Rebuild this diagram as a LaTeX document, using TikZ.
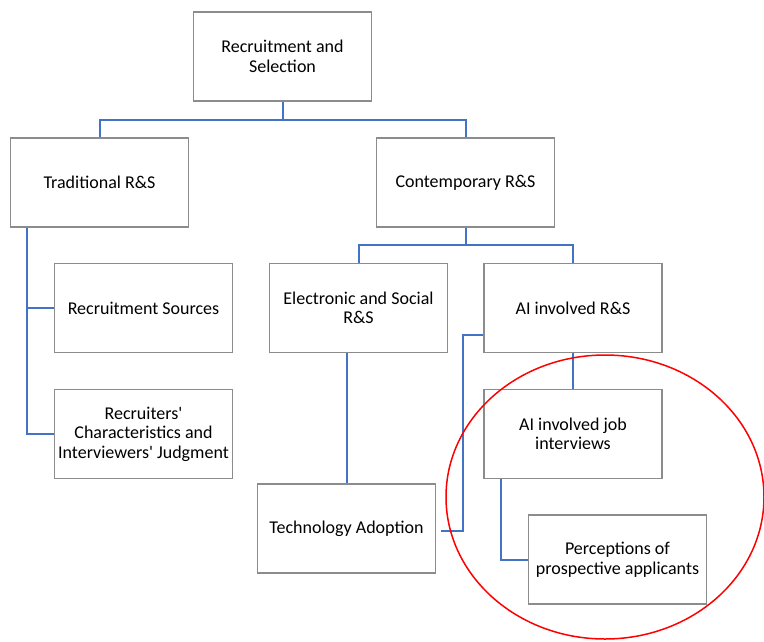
\documentclass[tikz,border=0pt]{standalone}
\usepackage{fontspec}
\setmainfont{Carlito}
\usepackage{tikz}
\usetikzlibrary{positioning, calc}
\definecolor{linkblue}{HTML}{4472C4}
\definecolor{boxgray}{HTML}{8C8C8C}

\begin{document}
\begin{tikzpicture}[on grid,
    box/.style={draw=boxgray, line width=1.3pt, fill=white, minimum width=178pt,
      minimum height=89pt, align=center, inner sep=2pt,
      font=\fontsize{18}{19.5}\selectfont},
    link/.style={draw=linkblue, line width=2pt},
    ring/.style={draw=red, line width=1.5pt}]
  \useasboundingbox (0,0) rectangle (764pt,-641pt);
  \node[box] (root) at (282.5pt,-56.5pt) {Recruitment and\\Selection};
  \node[box] (trad) [below left=126pt and 183pt of root] {Traditional R\&S};
  \node[box] (cont) [below right=126pt and 183pt of root] {Contemporary R\&S};
  \node[box] (rsrc) [below right=125.5pt and 44pt of trad] {Recruitment Sources};
  \node[box] (rjudg) [below=126pt of rsrc] {Recruiters\textquotesingle\\Characteristics and\\Interviewers\textquotesingle{} Judgment};
  \node[box] (elec) [below left=125.5pt and 107pt of cont] {Electronic and Social\\R\&S};
  \node[box] (airs) [below right=125.5pt and 107.5pt of cont] {AI involved R\&S};
  \node[box] (aijob) [below=126pt of airs] {AI involved job\\interviews};
  \node[box] (tech) [below left=220.5pt and 12pt of elec] {Technology Adoption};
  \node[box] (perc) [below right=125.5pt and 44.5pt of aijob] {Perceptions of\\prospective applicants};

  % joints
  \coordinate (rootJ) at ($(root.south)+(0,-18pt)$);
  \coordinate (contJ) at ($(cont.south)+(0,-17pt)$);
  \coordinate (tradJ) at ($(trad.south west)+(17pt,0)$);

  \draw[link] (root.south) -- (rootJ);
  \draw[link] (trad.north) |- (rootJ) -| (cont.north);
  \draw[link] (cont.south) -- (contJ);
  \draw[link] (elec.north) |- (contJ) -| (airs.north);
  \draw[link] (tradJ) |- (rsrc.west);
  \draw[link] (tradJ) |- (rjudg.west);
  \draw[link] (tech.north) -- (tech.north |- elec.south);
  \draw[link] ([xshift=5pt,yshift=-2.5pt]tech.east) -- ++(22pt,0) |- ([yshift=-27pt]airs.west);
  \draw[link] (airs.south) -- (aijob.north);
  \draw[link] ([xshift=18pt]aijob.south west) |- (perc.west);

  \draw[ring] (605pt,-497pt) ellipse [x radius=159pt, y radius=142pt];
\end{tikzpicture}
\end{document}
